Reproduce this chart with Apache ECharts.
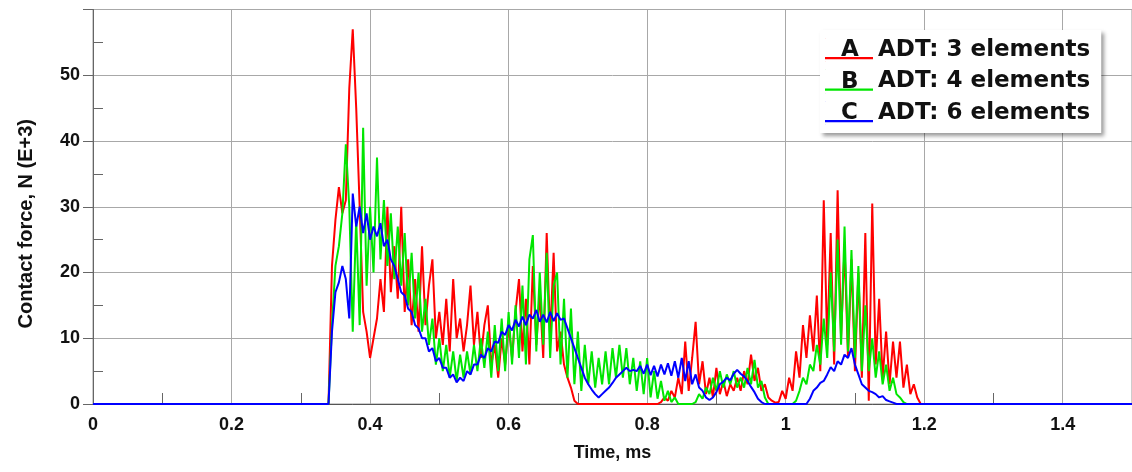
<!DOCTYPE html>
<html>
<head>
<meta charset="utf-8">
<script src="https://cdn.jsdelivr.net/npm/echarts@6/dist/echarts.min.js"></script>
<style>
html,body{margin:0;padding:0;background:#fff;}
#chart{width:1132px;height:472px;}
</style>
</head>
<body>
<div id="chart"></div>
<script>
// Time axis of the sampled region (ms)
const tStart = 0.34;
const tStep = 0.005;
const tEndAxis = 1.5;

const seriesNames = ['ADT: 3 elements', 'ADT: 4 elements', 'ADT: 6 elements'];
const seriesLetters = ['A', 'B', 'C'];
const seriesColors = ['#ff0000', '#00e600', '#0000ff'];

// Contact force, N (E+3), sampled every 0.005 ms from 0.34 ms to 1.20 ms
const forceA = [
  0, 21, 28, 33, 29, 31, 48, 57, 45, 30,
  14, 11, 7, 10, 13, 19, 14, 30, 17, 24,
  16, 30, 14, 22, 12, 19, 11, 24, 12, 18,
  22, 10, 14, 9, 16, 8, 19, 10, 13, 8,
  12, 18, 9, 14, 7, 12, 15, 6, 9, 4,
  10, 6, 12, 7, 14, 19, 8, 16, 6, 21,
  9, 17, 7, 26, 10, 23, 8, 11, 6, 4,
  2.5, 0.5, 0, 0, 0, 0, 0, 0, 0, 0,
  0, 0, 0, 0, 0, 0, 0, 0, 0, 0,
  0, 0, 0, 0, 0, 0, 0.3, 1, 0.5, 2,
  1, 4, 1.5, 9.5, 2, 7, 12.5, 3, 6.5, 1.5,
  4, 1, 5.5, 1.5, 3.5, 1.2, 3, 2, 4, 2,
  5, 3, 7.5, 3.5, 5.5, 2, 3, 1, 0.5, 0.2,
  0.3, 2, 0.8, 4, 2, 8, 4, 12, 7, 13.5,
  8, 16.5, 5, 31, 9, 26, 6, 32.5, 10, 24,
  7, 22, 5, 20, 4, 26, 0.5, 30.5, 6, 16,
  4, 11, 3, 9.5, 4, 9.5, 2.5, 6, 1.5, 3,
  1, 0, 0
];
const forceB = [
  0, 12, 21, 24, 29, 39.5, 30, 11, 28, 12,
  42, 18, 30, 20, 37.5, 22, 31, 21, 29, 19,
  27, 18, 26, 15, 23, 13, 20, 11, 16, 9,
  13, 6, 10, 5, 9, 4, 8, 3.5, 7.5, 4,
  8, 4.5, 9, 5, 10, 5.5, 11, 4, 12, 5,
  13, 5, 14, 6, 15, 7, 18, 6, 22, 25.7,
  8, 20, 9, 23, 7, 18, 20, 6, 16, 4,
  14.5, 3, 11, 2, 9, 3, 8, 2.5, 7, 3,
  8, 3, 8.5, 4, 9, 4, 8.5, 3, 7, 2,
  6.5, 1.5, 7, 1, 5, 0.8, 3.5, 0.5, 2, 0.3,
  1, 0, 0, 0, 0, 0, 0.3, 1.5, 0.8, 2.5,
  1.5, 4, 2, 5, 2.5, 4.5, 3, 5, 2.5, 4,
  2.5, 5.5, 3, 6.7, 2.5, 3.5, 1, 0, 0, 0,
  0, 0, 0, 0, 0, 0.5, 2, 4, 3, 6,
  5, 9, 6, 13, 7, 20, 8, 25, 9, 27,
  8, 23.4, 7, 21, 5, 15, 5, 10, 4, 8,
  3, 6, 2, 4, 1.5, 1, 0.3, 0, 0, 0,
  0, 0, 0
];
const forceC = [
  0, 11, 17, 18.5, 21, 19, 13, 32, 27, 30,
  26, 29, 25, 27, 25.5, 27.5, 24, 25, 22, 21,
  19, 17, 16.5, 14.5, 14, 12, 11.5, 10, 10, 8,
  8.5, 6.5, 7, 5.5, 5.5, 4, 4.5, 3.3, 4, 3.5,
  5, 4.5, 6, 6, 7.5, 7, 8.5, 8, 9.5, 9.3,
  11, 10.5, 12, 11.2, 12.8, 11.8, 13.3, 12, 13.6, 13,
  14.3, 12.5, 13.6, 12.4, 14, 12.6, 13.8, 12.8, 13, 11.5,
  10, 8.5, 7, 5.5, 4, 3, 2.2, 1.5, 1, 1.5,
  2, 2.5, 3.2, 4, 4.5, 5, 5.5, 5, 5.2, 5,
  5.8, 4.6, 6, 4.4, 5.8, 4.2, 6, 4.5, 6.2, 4.3,
  6.5, 4, 7, 3.5, 6.5, 3, 4.5, 2.5, 2, 1,
  0.6, 1, 1.8, 3, 3.4, 4, 3.6, 4.6, 5.2, 4.6,
  4.2, 3.5, 2.6, 1.8, 0.8, 0.3, 0, 0, 0, 0,
  0, 0, 0, 0, 0, 0, 0, 0, 0, 0.8,
  2, 2.5, 3.2, 3.5, 4.5, 5.6, 5, 6.5, 6, 7.5,
  7, 8.5, 6, 4.5, 3, 2.5, 2, 1.8, 1.5, 1,
  1.2, 0.6, 0.4, 0.2, 0, 0, 0, 0, 0, 0,
  0, 0, 0
];

function toPairs(arr) {
  const out = [[0, 0]];
  arr.forEach((v, i) => out.push([+(tStart + i * tStep).toFixed(4), v]));
  out.push([tEndAxis, 0]);
  return out;
}

const allForces = [forceA, forceB, forceC];
const FONT = '"Liberation Sans", Arial, sans-serif';
const LFONT = '"DejaVu Sans", "Liberation Sans", sans-serif';

const chart = echarts.init(document.getElementById('chart'), null, {renderer: 'canvas'});

const legendTop = 30, legendItemH = 24, legendGap = 7.5, legendPadTop = 8;
const letterGraphics = seriesLetters.map((L, i) => ({
  type: 'text',
  left: 849 - 8,
  top: legendTop + legendPadTop + i * (legendItemH + legendGap) + 1,
  z: 200,
  style: {text: L, fill: '#111', font: 'bold 23px ' + LFONT}
}));

chart.setOption({
  backgroundColor: '#ffffff',
  animation: false,
  grid: {left: 93, right: -3, top: 9.5, bottom: 68, show: true, borderColor: '#9a9a9a', borderWidth: 1, backgroundColor: 'transparent'},
  xAxis: {
    type: 'value', min: 0, max: tEndAxis, interval: 0.2,
    name: 'Time, ms', nameLocation: 'middle', nameGap: 40,
    nameTextStyle: {fontFamily: FONT, fontWeight: 'bold', fontSize: 18, color: '#111'},
    axisLine: {show: true, onZero: false, lineStyle: {color: '#555', width: 1}},
    axisTick: {show: false, inside: true},
    minorTick: {show: true, splitNumber: 2, length: 11, lineStyle: {color: '#666', width: 1}},
    axisLabel: {margin: 12, fontFamily: FONT, fontWeight: 'bold', fontSize: 18, color: '#111', showMaxLabel: false},
    splitLine: {show: true, lineStyle: {color: '#a8a8a8', width: 1}}
  },
  yAxis: {
    type: 'value', min: 0, max: 60, interval: 10,
    name: 'Contact force, N (E+3)', nameLocation: 'middle', nameGap: 57, nameRotate: 90,
    nameTextStyle: {fontFamily: FONT, fontWeight: 'bold', fontSize: 20, color: '#111', padding: [0, 34, 0, 0]},
    axisLine: {show: true, lineStyle: {color: '#666', width: 1}},
    axisTick: {show: true, inside: false, length: 10, lineStyle: {color: '#666'}},
    minorTick: {show: true, splitNumber: 2, length: -10, lineStyle: {color: '#666', width: 1}},
    axisLabel: {margin: 13, fontFamily: FONT, fontWeight: 'bold', fontSize: 18, color: '#111', showMaxLabel: false},
    splitLine: {show: true, lineStyle: {color: '#a8a8a8', width: 1}}
  },
  legend: {
    orient: 'vertical', left: 820, top: legendTop,
    padding: [legendPadTop, 11, 8, 5],
    itemWidth: 48, itemHeight: legendItemH, itemGap: legendGap,
    backgroundColor: '#ffffff',
    shadowColor: 'rgba(0,0,0,0.4)', shadowBlur: 4, shadowOffsetX: 3, shadowOffsetY: 3,
    icon: 'path://M0,0h0.3v0.3h-0.3Z M0,19h48v2.2h-48Z M0,23.7h0.3v0.3h-0.3Z',
    textStyle: {fontFamily: LFONT, fontWeight: 'bold', fontSize: 23, color: '#111', lineHeight: 24},
    data: seriesNames,
    selectedMode: false
  },
  graphic: letterGraphics,
  series: allForces.map((arr, i) => ({
    name: seriesNames[i],
    type: 'line',
    data: toPairs(arr),
    showSymbol: false,
    symbol: 'none',
    color: seriesColors[i],
    lineStyle: {color: seriesColors[i], width: 2},
    z: 2 + i,
    silent: true
  }))
});
</script>
</body>
</html>
